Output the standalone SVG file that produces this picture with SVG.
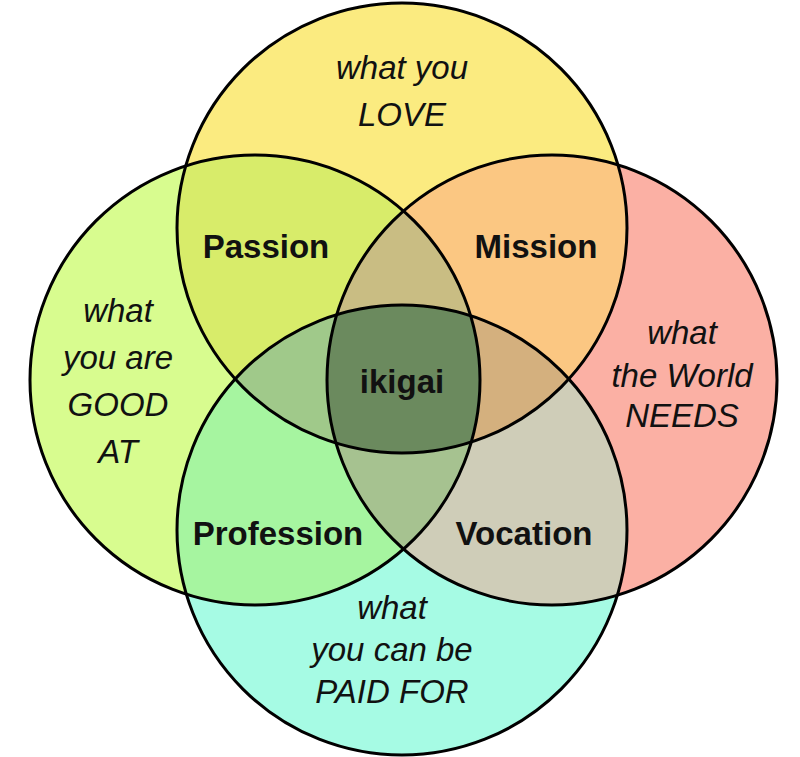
<svg xmlns="http://www.w3.org/2000/svg" width="800" height="757" viewBox="0 0 800 757">
<defs>
<clipPath id="cT"><circle cx="402" cy="228" r="225"/></clipPath>
<clipPath id="cL"><circle cx="255" cy="380" r="225"/></clipPath>
<clipPath id="cR"><circle cx="552" cy="380" r="225"/></clipPath>
<clipPath id="cB"><circle cx="402" cy="530" r="225"/></clipPath>
</defs>
<style>
.o{fill:none;stroke:#000;stroke-width:3}
.b{font-family:"Liberation Sans",Arial,sans-serif;font-weight:bold;font-size:33px;text-anchor:middle;fill:#111}
.i{font-family:"Liberation Sans",Arial,sans-serif;font-style:italic;font-size:33px;text-anchor:middle;fill:#111}
</style>
<rect width="800" height="757" fill="#fff"/>
<g id="fills">
<circle cx="402" cy="228" r="225" fill="#fbeb80"/>
<circle cx="255" cy="380" r="225" fill="#d8fc8f"/>
<circle cx="552" cy="380" r="225" fill="#fbb0a4"/>
<circle cx="402" cy="530" r="225" fill="#a6fbe4"/>
<g clip-path="url(#cT)"><circle cx="255" cy="380" r="225" fill="#d8ec6a"/><circle cx="552" cy="380" r="225" fill="#fbc782"/></g>
<g clip-path="url(#cB)"><circle cx="255" cy="380" r="225" fill="#a6f5a0"/><circle cx="552" cy="380" r="225" fill="#cfcdb8"/></g>
<g clip-path="url(#cT)"><g clip-path="url(#cL)"><circle cx="552" cy="380" r="225" fill="#c9bd83"/><circle cx="402" cy="530" r="225" fill="#a0c98a"/></g></g>
<g clip-path="url(#cB)"><g clip-path="url(#cR)"><circle cx="402" cy="228" r="225" fill="#d4b07e"/><circle cx="255" cy="380" r="225" fill="#a6c290"/></g></g>
<g clip-path="url(#cT)"><g clip-path="url(#cL)"><g clip-path="url(#cR)"><circle cx="402" cy="530" r="225" fill="#6b8a5e"/></g></g></g>
</g>
<g id="outlines">
<circle class="o" cx="402" cy="228" r="225"/>
<circle class="o" cx="255" cy="380" r="225"/>
<circle class="o" cx="552" cy="380" r="225"/>
<circle class="o" cx="402" cy="530" r="225"/>
</g>
<g id="top"><text class="i" x="402" y="79">what you</text><text class="i" x="402" y="126">LOVE</text></g>
<g id="left"><text class="i" x="118" y="322">what</text><text class="i" x="118" y="369">you are</text><text class="i" x="118" y="416">GOOD</text><text class="i" x="118" y="463">AT</text></g>
<g id="right"><text class="i" x="682" y="344">what</text><text class="i" x="682" y="387">the World</text><text class="i" x="682" y="427">NEEDS</text></g>
<g id="bottom"><text class="i" x="392" y="619">what</text><text class="i" x="392" y="661">you can be</text><text class="i" x="392" y="703">PAID FOR</text></g>
<g id="passion"><text class="b" x="266" y="258">Passion</text></g>
<g id="mission"><text class="b" x="536" y="258">Mission</text></g>
<g id="profession"><text class="b" x="278" y="545">Profession</text></g>
<g id="vocation"><text class="b" x="524" y="545">Vocation</text></g>
<g id="ikigai"><text class="b" x="402" y="393">ikigai</text></g>
</svg>
